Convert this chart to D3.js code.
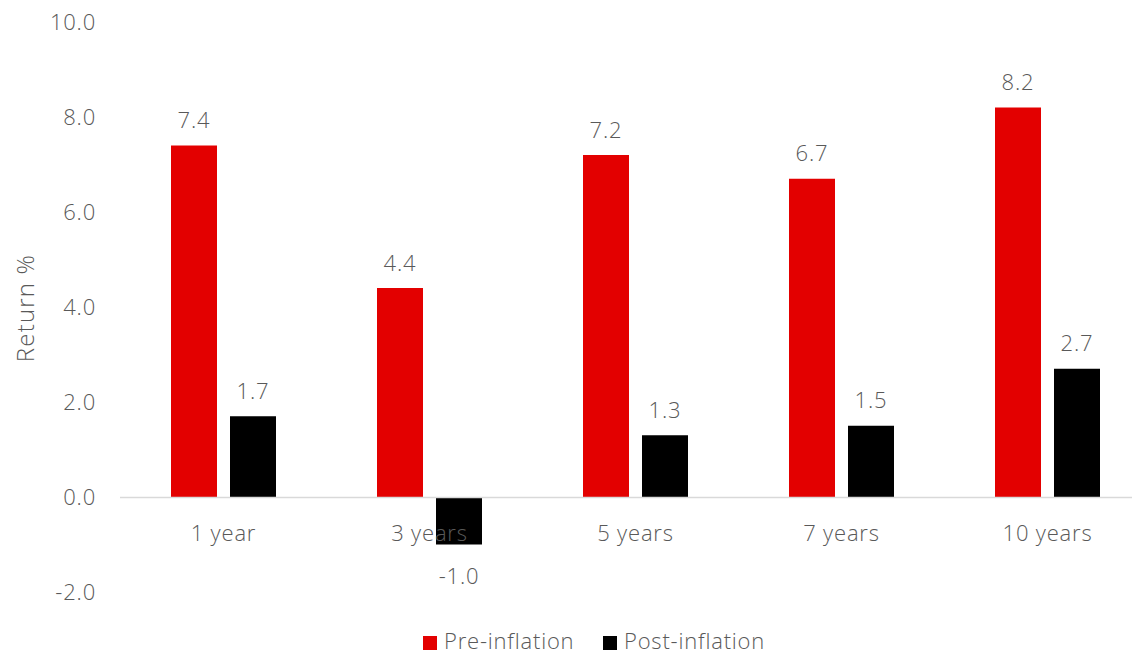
<!DOCTYPE html>
<html><head><meta charset="utf-8">
<script src="https://cdn.jsdelivr.net/npm/d3@7"></script>
<style>
body{margin:0;background:#fff;}
text{font-family:"Open Sans","Noto Sans",sans-serif;font-weight:300;fill:#595959;letter-spacing:0.8px;}
</style></head>
<body><svg id="c" width="1132" height="657"></svg>
<script>
const categories = ["1 year","3 years","5 years","7 years","10 years"];
const seriesNames = ["Pre-inflation","Post-inflation"];
const preInflation = [7.4,4.4,7.2,6.7,8.2];
const postInflation = [1.7,-1.0,1.3,1.5,2.7];
const yTicks = [-2,0,2,4,6,8,10];
const colors = ["#e30000","#000000"];

const svg = d3.select("#c");
const x = d3.scaleBand().domain(categories).range([120.5,1150.5]).paddingInner(0).paddingOuter(0);
const y = d3.scaleLinear().domain([-2,10]).range([592,22]);
const sub = d3.scaleBand().domain(seriesNames).range([x.bandwidth()/2-52.5, x.bandwidth()/2+52.5]).paddingInner(13/59);

// y tick labels
svg.append("g").selectAll("text").data(yTicks).join("text")
  .attr("x",96).attr("y",d=>y(d)).attr("dy","0.35em").attr("text-anchor","end")
  .style("font-size","22px").text(d=>d.toFixed(1));

// axis title
svg.append("text").attr("transform","translate(34,308) rotate(-90)")
  .attr("text-anchor","middle").style("font-size","24px").style("letter-spacing","1.2px").text("Return %");

const data = categories.map((c,i)=>({c, vals:[preInflation[i],postInflation[i]]}));
const g = svg.append("g");
data.forEach(d=>{
  d.vals.forEach((v,j)=>{
    const bx = x(d.c)+sub(seriesNames[j]);
    g.append("rect").attr("x",bx).attr("width",sub.bandwidth())
      .attr("y",Math.min(y(v),y(0))).attr("height",Math.abs(y(v)-y(0)))
      .attr("fill",colors[j]);
    g.append("text").attr("x",bx+sub.bandwidth()/2)
      .attr("y", v>=0 ? y(v)-25 : y(v)+32).attr("dy","0.35em")
      .attr("text-anchor","middle").style("font-size","22px").text(v.toFixed(1));
  });
});

// baseline
svg.append("line").attr("x1",120).attr("x2",1132).attr("y1",y(0)+0.5).attr("y2",y(0)+0.5)
  .attr("stroke","#d9d9d9").attr("stroke-width",1.5);

// category labels
svg.append("g").selectAll("text").data(categories).join("text")
  .attr("x",d=>x(d)+x.bandwidth()/2).attr("y",533).attr("dy","0.35em")
  .attr("text-anchor","middle").style("font-size","22px").text(d=>d);

// legend
const leg = svg.append("g");
const legX = [423,603];
seriesNames.forEach((s,i)=>{
  leg.append("rect").attr("x",legX[i]).attr("y",636).attr("width",14).attr("height",14).attr("fill",colors[i]);
  leg.append("text").attr("x",legX[i]+21).attr("y",641).attr("dy","0.35em").style("font-size","22px").text(s);
});
</script></body></html>
